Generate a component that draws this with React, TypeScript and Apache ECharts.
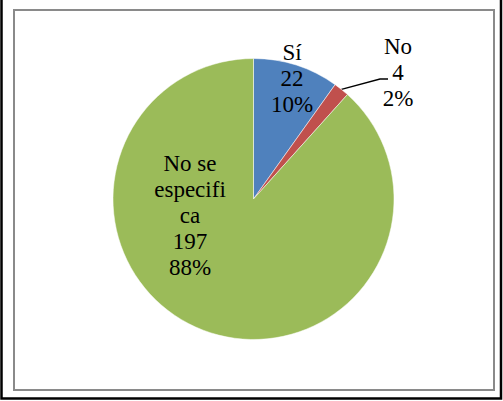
import React, { useEffect, useRef } from "react";
import * as echarts from "echarts";

const categories = ["Sí", "No", "No se especifica"];
const displayNames = ["Sí", "No", "No se\nespecifi\nca"];
const counts = [22, 4, 197];
const colors = ["#4F81BD", "#C0504D", "#9BBB59"];

const FONT = "Liberation Serif";
const FS = 23;

export default function App() {
  const ref = useRef<HTMLDivElement>(null);
  useEffect(() => {
    const chart = echarts.init(ref.current!, null, { renderer: "svg" });
    const labelPos = [
      { x: 292, y: 78 },
      { x: 398, y: 72 },
      { x: 190, y: 215 },
    ];
    chart.setOption({
      animation: false,
      backgroundColor: "#ffffff",
      graphic: [
        {
          type: "rect",
          shape: { x: 14, y: 10, width: 480, height: 380 },
          style: { fill: "none", stroke: "#8a8a8a", lineWidth: 2 },
          silent: true,
        },
        {
          type: "polyline",
          shape: { points: [[1.5, -2], [1.5, 398.5], [501, 398.5], [501, -2]] },
          style: { fill: "none", stroke: "#000", lineWidth: 2.5 },
          silent: true,
        },
      ],
      series: [
        {
          type: "pie",
          center: [253.5, 199],
          radius: 140.5,
          startAngle: 90,
          clockwise: true,
          avoidLabelOverlap: false,
          itemStyle: { borderColor: "#ffffff", borderWidth: 0.5 },
          label: {
            show: true,
            position: "inside",
            color: "#000",
            fontFamily: FONT,
            fontSize: FS,
            lineHeight: 26,
            align: "center",
            textBorderWidth: 0,
            formatter: (p: any) =>
              `${displayNames[p.dataIndex]}\n${p.value}\n${Math.round(p.percent)}%`,
          },
          labelLine: { show: false },
          labelLayout: (params: any) => {
            const pos = labelPos[params.dataIndex];
            const res: any = {
              x: pos.x,
              y: pos.y,
              align: "center",
              verticalAlign: "middle",
              fontSize: FS,
            };
            if (params.dataIndex === 1) {
              const start =
                params.labelLinePoints && params.labelLinePoints[0]
                  ? params.labelLinePoints[0]
                  : [341.5, 90];
              res.labelLinePoints = [start, [380, 79], [388, 79]];
            }
            return res;
          },
          data: categories.map((name, i) => ({
            name,
            value: counts[i],
            itemStyle: { color: colors[i] },
            ...(i === 1
              ? {
                  label: { position: "outside", fontSize: FS, fontFamily: FONT },
                  labelLine: {
                    show: true,
                    length: 20,
                    length2: 8,
                    lineStyle: { color: "#000", width: 1.3 },
                  },
                }
              : {}),
          })),
        },
      ],
    });
    return () => chart.dispose();
  }, []);
  return (
    <div
      ref={ref}
      style={{ position: "fixed", left: 0, top: 0, width: 503, height: 401 }}
    />
  );
}
